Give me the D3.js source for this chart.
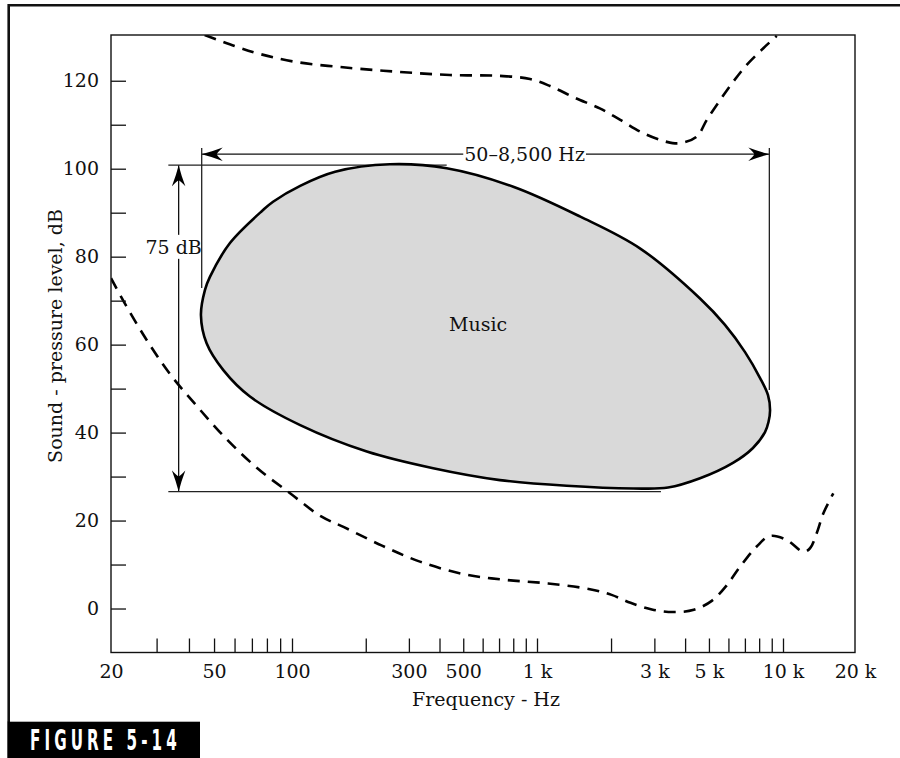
<!DOCTYPE html>
<html>
<head>
<meta charset="utf-8">
<script src="https://d3js.org/d3.v7.min.js"></script>
<style>
	body {
		margin: 0;
		background: #fff;
	}
	#chart text {
		font-family: "DejaVu Serif", serif;
		font-size: 19px;
		fill: #111;
	}
	#chart .fig text {
		font-family: "DejaVu Sans Condensed", "DejaVu Sans", sans-serif;
		font-size: 29px;
		font-weight: bold;
		fill: #fff;
	}
</style>
</head>
<body>

<svg id="chart" width="900" height="758"></svg>

<script>

	// axis ticks
	var tickHz = [30, 40, 50, 60, 70, 80, 90, 100, 200, 300, 400, 500, 600, 700, 800, 900,
		1000, 2000, 3000, 4000, 5000, 6000, 7000, 8000, 9000, 10000];
	var labelHz = [20, 50, 100, 300, 500, 1000, 3000, 5000, 10000, 20000];
	var labelHzText = ["20", "50", "100", "300", "500", "1 k", "3 k", "5 k", "10 k", "20 k"];
	var tickDb = [0, 10, 20, 30, 40, 50, 60, 70, 80, 90, 100, 110, 120];
	var labelDb = [0, 20, 40, 60, 80, 100, 120];

	// music area outline (Hz, dB)
	var musicHz = [44.5, 46.1, 48.2, 57.6, 77.3, 84.5, 108, 150, 251, 428, 800, 1500, 2620, 4600,
		5810, 7010, 8070, 8690, 8860, 8730, 8450, 7550, 6260, 4600, 3410, 2460, 1320, 706, 377,
		202, 108, 68.8, 54.3, 46.8];
	var musicDb = [66.7, 72.4, 75.4, 83.1, 90.6, 92.5, 96.1, 99.3, 101.0, 100.1, 95.9, 89.1, 81.9, 70.5,
		64.5, 58.3, 52.4, 48.5, 45.1, 42.4, 40.1, 36.5, 33.1, 29.6, 27.5, 27.3, 27.9, 29.2, 31.9,
		35.7, 41.7, 48.2, 54.2, 60.3];

	// upper dashed curve
	var painHz = [46, 60, 75, 103, 173, 276, 441, 706, 936, 1130, 1430, 1800, 2180, 2700, 3370,
		3810, 4460, 4900, 5550, 6280, 7120, 8320, 9430];
	var painDb = [130.4, 127.9, 126.1, 124.3, 122.9, 122.0, 121.3, 121.1, 120.4, 118.8, 116.1, 113.7,
		111.1, 108.1, 106.1, 105.8, 107.3, 111.1, 115.6, 119.8, 123.6, 127.4, 130.2];

	// lower dashed curve
	var hearHz = [20, 22.3, 27.5, 34.0, 43.1, 55.9, 73.5, 98.3, 131, 163, 233, 335, 504, 747, 1110,
		1640, 2010, 2400, 2930, 3570, 4340, 5150, 5870, 6690, 7820, 8860, 10360, 12160, 12970,
		13830, 14740, 16230];
	var hearDb = [75.1, 70.0, 61.0, 53.1, 45.9, 38.5, 31.9, 26.2, 21.0, 18.5, 14.3, 10.6, 7.8, 6.5, 5.7,
		4.4, 3.1, 1.3, -0.2, -0.8, -0.3, 1.8, 5.1, 9.5, 14.1, 16.5, 15.6, 12.9, 13.7, 17.1, 21.6, 26.2];

	// dimension lines: frequency span and level span
	var spanHz = [44.8, 8800];
	var spanDb = 103.3;
	var spanExtDb = [104.7, 72.9, 49.7];   // top, left bottom, right bottom
	var rangeDb = [100.8, 26.6];
	var rangeHz = 36.5;
	var rangeExtHz = [33.3, 428, 3190];    // start, top end, bottom end

	var svg = d3.select("#chart");

	// the printed decades are not quite even, so the log scale is piecewise
	var x = d3.scaleLog()
		.domain([20, 100, 1000, 10000, 20000])
		.range([111, 292, 537, 783, 855]);

	var y = d3.scaleLinear()
		.domain([-10, 130.4])
		.range([652.5, 35]);

	var x0 = x.range()[0], x1 = x.range()[4],
		yTop = y.range()[1], yBot = y.range()[0];

	// page frame and figure tag
	svg.append("path")
		.attr("d", "M8.7,722 V5.2 H900")
		.attr("fill", "none")
		.attr("stroke", "#111")
		.attr("stroke-width", 2.6);

	var fig = svg.append("g").attr("class", "fig");
	fig.append("rect")
		.attr("x", 7.3).attr("y", 721.7)
		.attr("width", 192.7).attr("height", 37)
		.attr("fill", "#000");
	fig.append("text")
		.attr("transform", "translate(30,750) scale(0.58,1)")
		.attr("textLength", 253)
		.attr("lengthAdjust", "spacing")
		.text("FIGURE 5-14");

	svg.append("clipPath").attr("id", "plot")
		.append("rect")
		.attr("x", x0).attr("y", yTop)
		.attr("width", x1 - x0).attr("height", yBot - yTop);

	// dimension lines
	svg.append("defs").append("marker")
		.attr("id", "arrow")
		.attr("viewBox", "-22 -7 23 14")
		.attr("refX", 0).attr("refY", 0)
		.attr("markerWidth", 23).attr("markerHeight", 14)
		.attr("markerUnits", "userSpaceOnUse")
		.attr("orient", "auto-start-reverse")
		.append("path")
		.attr("d", "M0,0 Q-10,-2.5 -21,-6.7 Q-16,-2 -15,0 Q-16,2 -21,6.7 Q-10,2.5 0,0 Z")
		.attr("fill", "#000");

	var dim = svg.append("g")
		.attr("stroke", "#111")
		.attr("stroke-width", 1.3)
		.attr("fill", "none");

	dim.append("line")
		.attr("x1", x(spanHz[0])).attr("x2", x(spanHz[1]))
		.attr("y1", y(spanDb)).attr("y2", y(spanDb))
		.attr("marker-start", "url(#arrow)")
		.attr("marker-end", "url(#arrow)");

	dim.append("line")
		.attr("x1", x(rangeHz)).attr("x2", x(rangeHz))
		.attr("y1", y(rangeDb[0])).attr("y2", y(rangeDb[1]))
		.attr("marker-start", "url(#arrow)")
		.attr("marker-end", "url(#arrow)");

	function gapLabel(tx, ty, label) {
		var t = svg.append("text")
			.attr("x", tx).attr("y", ty)
			.attr("dy", "0.36em")
			.attr("text-anchor", "middle")
			.text(label);
		var b = t.node().getBBox();
		svg.insert("rect", function() { return t.node(); })
			.attr("x", b.x - 1).attr("y", b.y - 1)
			.attr("width", b.width + 2).attr("height", b.height + 2)
			.attr("fill", "#fff");
	}

	gapLabel(x(890), y(spanDb), "50\u20138,500 Hz");
	gapLabel(x(rangeHz) - 5, y(82.2), "75 dB");

	var ext = svg.append("g")
		.attr("stroke", "#222")
		.attr("stroke-width", 1.3);

	ext.append("line")
		.attr("x1", x(spanHz[0])).attr("x2", x(spanHz[0]))
		.attr("y1", y(spanExtDb[0])).attr("y2", y(spanExtDb[1]));
	ext.append("line")
		.attr("x1", x(spanHz[1])).attr("x2", x(spanHz[1]))
		.attr("y1", y(spanExtDb[0])).attr("y2", y(spanExtDb[2]));
	ext.append("line")
		.attr("x1", x(rangeExtHz[0])).attr("x2", x(rangeExtHz[1]))
		.attr("y1", y(rangeDb[0])).attr("y2", y(rangeDb[0]));
	ext.append("line")
		.attr("x1", x(rangeExtHz[0])).attr("x2", x(rangeExtHz[2]))
		.attr("y1", y(rangeDb[1])).attr("y2", y(rangeDb[1]));

	// music area
	var music = musicHz.map((f, i) => [f, musicDb[i]]);

	svg.append("path")
		.datum(music)
		.attr("d", d3.line()
			.x(d => x(d[0]))
			.y(d => y(d[1]))
			.curve(d3.curveCatmullRomClosed.alpha(0.5)))
		.attr("fill", "#d9d9d9")
		.attr("stroke", "#000")
		.attr("stroke-width", 2.6);

	svg.append("text")
		.attr("x", x(575)).attr("y", y(63.2))
		.attr("text-anchor", "middle")
		.text("Music");

	// threshold curves
	var dashed = d3.line()
		.x(d => x(d[0]))
		.y(d => y(d[1]))
		.curve(d3.curveCatmullRom.alpha(0.5));

	[[painHz, painDb], [hearHz, hearDb]].forEach(function(c) {
		svg.append("path")
			.datum(c[0].map((f, i) => [f, c[1][i]]))
			.attr("clip-path", "url(#plot)")
			.attr("d", dashed)
			.attr("fill", "none")
			.attr("stroke", "#000")
			.attr("stroke-width", 2.6)
			.attr("stroke-dasharray", "12,8");
	});

	// axes
	svg.append("rect")
		.attr("x", x0).attr("y", yTop)
		.attr("width", x1 - x0).attr("height", yBot - yTop)
		.attr("fill", "none")
		.attr("stroke", "#111")
		.attr("stroke-width", 1.4);

	var xTicks = svg.append("g")
		.attr("transform", "translate(0," + yBot + ")")
		.call(d3.axisBottom(x).tickValues(tickHz).tickSize(-14).tickFormat(""));

	var xLabels = svg.append("g")
		.attr("transform", "translate(0," + yBot + ")")
		.call(d3.axisBottom(x).tickValues(labelHz).tickSize(0).tickPadding(12)
			.tickFormat((d, i) => labelHzText[i]));

	var yTicks = svg.append("g")
		.attr("transform", "translate(" + x0 + ",0)")
		.call(d3.axisRight(y).tickValues(tickDb).tickSize(15).tickFormat(""));

	var yLabels = svg.append("g")
		.attr("transform", "translate(" + x0 + ",0)")
		.call(d3.axisLeft(y).tickValues(labelDb).tickSize(0).tickPadding(12));

	[xTicks, xLabels, yTicks, yLabels].forEach(function(g) {
		g.attr("font-family", null).attr("font-size", null);
		g.select(".domain").remove();
		g.selectAll(".tick line").attr("stroke", "#111").attr("stroke-width", 1.3);
	});

	svg.append("text")
		.attr("x", 486).attr("y", 706)
		.attr("text-anchor", "middle")
		.text("Frequency - Hz");

	svg.append("text")
		.attr("transform", "translate(62,336) rotate(-90)")
		.attr("text-anchor", "middle")
		.text("Sound - pressure level, dB");

</script>
</body>
</html>
